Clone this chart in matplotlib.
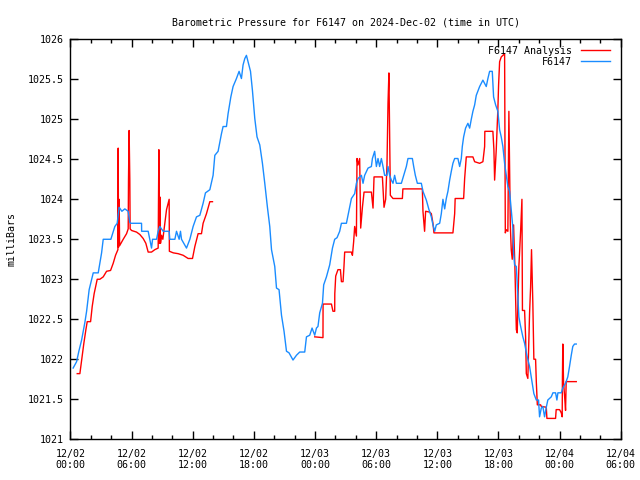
import numpy as np
import pandas as pd
import matplotlib
matplotlib.use("Agg")
import matplotlib.pyplot as plt
import matplotlib.dates as mdates

# ore dalle 00:00 UTC del 2024-12-02, pressione in mbar
station_h = [0.27, 0.61, 0.83, 1.10, 1.42, 1.59, 1.84, 2.24, 2.73, 3.06, 3.22, 3.97, 4.36, 4.59, 4.78,
             5.05, 5.34, 5.67, 5.83, 5.93, 6.98, 6.99, 7.63, 7.96, 8.06, 8.45, 8.61, 8.77, 9.10, 9.69,
             9.75, 10.25, 10.41, 10.67, 10.80, 10.90, 11.39, 11.72, 12.04, 12.37, 12.70, 13.02, 13.25,
             13.68, 14.00, 14.17, 14.49, 14.82, 14.98, 15.31, 15.47, 15.74, 15.96, 16.29, 16.55, 16.78,
             16.94, 17.11, 17.27, 17.43, 17.67, 17.86, 18.09, 18.31, 18.58, 18.84, 19.07, 19.33, 19.56,
             19.73, 20.05, 20.22, 20.47, 20.71, 20.96, 21.20, 21.45, 21.84, 22.18, 22.50, 22.99, 23.16,
             23.48, 23.71, 23.97, 24.14, 24.29, 24.46, 24.73, 24.85, 25.12, 25.44, 25.71, 25.93, 26.16,
             26.42, 26.59, 27.08, 27.24, 27.40, 27.57, 27.89, 28.06, 28.22, 28.55, 28.71, 28.87, 29.20,
             29.53, 29.63, 29.85, 30.02, 30.18, 30.34, 30.51, 30.67, 30.83, 31.06, 31.16, 31.32, 31.49,
             31.65, 31.81, 31.98, 32.47, 32.70, 32.96, 33.12, 33.55, 33.68, 33.84, 34.04, 34.43, 34.59,
             34.92, 35.18, 35.41, 35.57, 35.74, 35.90, 36.23, 36.39, 36.55, 36.72, 36.88, 37.04, 37.21,
             37.37, 37.53, 37.70, 38.02, 38.19, 38.35, 38.45, 38.58, 38.77, 39.00, 39.17, 39.33, 39.49,
             39.66, 39.82, 40.15, 40.47, 40.80, 40.96, 41.13, 41.39, 41.52, 41.72, 41.94, 42.11, 42.27,
             42.43, 42.60, 42.76, 42.92, 43.09, 43.25, 43.41, 43.48, 43.58, 43.75, 43.91, 44.00, 44.14,
             44.39, 44.56, 44.78, 45.05, 45.31, 45.47, 45.71, 45.93, 46.03, 46.20, 46.35, 46.52, 46.69,
             46.84, 47.18, 47.34, 47.60, 47.73, 47.83, 48.16, 48.31, 48.58, 48.80, 48.97, 49.14, 49.29,
             49.46, 49.63]
station_p = [1021.89, 1021.97, 1022.10, 1022.24, 1022.46, 1022.60, 1022.87, 1023.08, 1023.08, 1023.33,
             1023.50, 1023.50, 1023.66, 1023.70, 1023.90, 1023.85, 1023.88, 1023.85, 1023.71, 1023.70,
             1023.70, 1023.60, 1023.60, 1023.39, 1023.50, 1023.50, 1023.60, 1023.66, 1023.60, 1023.60,
             1023.50, 1023.50, 1023.60, 1023.50, 1023.60, 1023.50, 1023.39, 1023.50, 1023.66, 1023.78,
             1023.80, 1023.95, 1024.08, 1024.12, 1024.30, 1024.55, 1024.60, 1024.82, 1024.91, 1024.91,
             1025.07, 1025.28, 1025.41, 1025.51, 1025.60, 1025.51, 1025.68, 1025.76, 1025.80, 1025.72,
             1025.60, 1025.36, 1025.01, 1024.78, 1024.68, 1024.45, 1024.20, 1023.90, 1023.66, 1023.37,
             1023.16, 1022.89, 1022.87, 1022.55, 1022.35, 1022.10, 1022.08, 1021.99, 1022.05, 1022.09,
             1022.09, 1022.28, 1022.30, 1022.39, 1022.30, 1022.39, 1022.41, 1022.58, 1022.70, 1022.93,
             1023.03, 1023.18, 1023.39, 1023.50, 1023.52, 1023.60, 1023.70, 1023.70, 1023.80, 1023.90,
             1024.01, 1024.07, 1024.20, 1024.26, 1024.30, 1024.20, 1024.30, 1024.39, 1024.41, 1024.51,
             1024.60, 1024.41, 1024.51, 1024.41, 1024.51, 1024.41, 1024.30, 1024.30, 1024.41, 1024.30,
             1024.24, 1024.20, 1024.30, 1024.20, 1024.20, 1024.30, 1024.41, 1024.51, 1024.51, 1024.41,
             1024.30, 1024.20, 1024.20, 1024.10, 1023.99, 1023.87, 1023.78, 1023.68, 1023.60, 1023.68,
             1023.70, 1023.82, 1024.00, 1023.88, 1024.01, 1024.10, 1024.24, 1024.35, 1024.45, 1024.51,
             1024.51, 1024.41, 1024.51, 1024.66, 1024.78, 1024.89, 1024.95, 1024.89, 1025.00, 1025.10,
             1025.18, 1025.30, 1025.41, 1025.49, 1025.41, 1025.51, 1025.60, 1025.60, 1025.28, 1025.18,
             1025.10, 1024.87, 1024.78, 1024.66, 1024.45, 1024.30, 1024.16, 1024.10, 1023.87, 1023.64,
             1023.33, 1023.18, 1023.16, 1022.74, 1022.53, 1022.43, 1022.28, 1022.20, 1022.05, 1021.91,
             1021.70, 1021.57, 1021.49, 1021.49, 1021.28, 1021.39, 1021.41, 1021.28, 1021.40, 1021.49,
             1021.53, 1021.58, 1021.58, 1021.49, 1021.58, 1021.58, 1021.64, 1021.70, 1021.78, 1021.91,
             1022.05, 1022.16, 1022.19, 1022.19]

# analisi: NaN = buco nei dati
analysis_h = [0.67, 0.93, 1.10, 1.32, 1.52, 1.65, 1.98, 2.14, 2.33, 2.63, 2.89, 3.22, 3.55, 3.94, 4.20,
              4.43, 4.66, 4.69, 4.72, 4.78, 4.83, 5.18, 5.51, 5.67, 5.70, 5.76, 5.83, 5.86, 6.00, 6.49,
              6.81, 7.14, 7.40, 7.63, 7.96, 8.28, 8.61, 8.64, 8.68, 8.73, 8.77, 8.84, 8.94, 9.07, 9.26,
              9.43, 9.59, 9.69, 9.71, 10.10, 10.57, 11.06, 11.55, 11.98, 12.21, 12.53, 12.86, 13.02,
              13.35, 13.68, 13.94, 18.0,
              23.97, 24.78, 24.79, 25.61, 25.76, 25.93, 25.94, 26.03, 26.25, 26.49, 26.59, 26.75, 26.84,
              26.91, 27.57, 27.67, 27.79, 27.89, 28.06, 28.12, 28.22, 28.38, 28.48, 28.65, 28.81, 29.53,
              29.69, 29.79, 30.61, 30.67, 30.77, 30.93, 31.06, 31.16, 31.25, 31.32, 31.39, 31.65, 32.57,
              32.62, 34.53, 34.59, 34.75, 34.85, 35.25, 35.41, 35.57, 35.67, 37.53, 37.70, 37.75, 38.58,
              38.68, 38.84, 39.49, 39.66, 40.15, 40.47, 40.64, 40.66, 41.45, 41.55, 41.62, 41.78, 41.94,
              42.01, 42.11, 42.27, 42.43, 42.60, 42.67, 42.76, 42.92, 43.02, 43.16, 43.25, 43.35, 43.48,
              43.61, 43.75, 43.84, 43.91, 44.00, 44.17, 44.30, 44.35, 44.56, 44.66, 44.73, 44.88, 44.98,
              45.05, 45.15, 45.24, 45.37, 45.47, 45.64, 45.71, 45.81, 46.13, 46.20, 46.69, 46.75, 47.60,
              47.66, 47.99, 48.16, 48.25, 48.27, 48.31, 48.38, 48.48, 48.58, 48.64, 48.80, 49.63]
analysis_p = [1021.82, 1021.82, 1021.99, 1022.20, 1022.37, 1022.47, 1022.47, 1022.66, 1022.82, 1023.00,
              1023.00, 1023.03, 1023.10, 1023.11, 1023.20, 1023.30, 1023.37, 1024.64, 1023.40, 1024.00,
              1023.42, 1023.50, 1023.57, 1023.63, 1024.24, 1024.86, 1024.24, 1023.63, 1023.61, 1023.59,
              1023.56, 1023.51, 1023.45, 1023.34, 1023.34, 1023.37, 1023.39, 1024.00, 1024.62, 1023.45,
              1024.03, 1023.45, 1023.55, 1023.50, 1023.70, 1023.87, 1023.95, 1024.00, 1023.35, 1023.33,
              1023.32, 1023.30, 1023.26, 1023.26, 1023.41, 1023.57, 1023.57, 1023.70, 1023.82, 1023.97,
              1023.97, np.nan,
              1022.28, 1022.27, 1022.69, 1022.69, 1022.60, 1022.60, 1022.82, 1023.04, 1023.12, 1023.12,
              1022.97, 1022.97, 1023.16, 1023.34, 1023.34, 1023.30, 1023.47, 1023.66, 1023.54, 1024.51,
              1024.43, 1024.51, 1023.64, 1023.90, 1024.09, 1024.09, 1023.89, 1024.28, 1024.28, 1024.14,
              1023.90, 1024.00, 1024.43, 1025.20, 1025.58, 1024.80, 1024.05, 1024.01, 1024.01, 1024.13,
              1024.13, 1023.85, 1023.60, 1023.85, 1023.84, 1023.82, 1023.70, 1023.58, 1023.58, 1023.82,
              1024.01, 1024.01, 1024.26, 1024.53, 1024.53, 1024.47, 1024.45, 1024.47, 1024.66, 1024.85,
              1024.85, 1024.62, 1024.24, 1024.62, 1025.13, 1025.43, 1025.72, 1025.78, 1025.80, 1025.82,
              1023.58, 1023.62, 1023.60, 1025.10, 1023.68, 1023.37, 1023.25, 1023.68, 1023.16, 1022.37,
              1022.33, 1022.74, 1023.16, 1023.60, 1024.00, 1022.61, 1022.61, 1022.28, 1021.82, 1021.76,
              1022.24, 1022.58, 1022.90, 1023.37, 1022.70, 1022.00, 1022.00, 1021.72, 1021.43, 1021.43,
              1021.41, 1021.40, 1021.26, 1021.26, 1021.37, 1021.37, 1021.33, 1021.28, 1021.72, 1022.19,
              1021.72, 1021.55, 1021.36, 1021.72, 1021.72, 1021.72]

station = "F6147"
y_ticks = [1021, 1021.5, 1022, 1022.5, 1023, 1023.5, 1024, 1024.5, 1025, 1025.5, 1026]
y_labels = ["1021", "1021.5", "1022", "1022.5", "1023", "1023.5", "1024", "1024.5", "1025", "1025.5", "1026"]

base = pd.Timestamp("2024-12-02 00:00")
t_station = base + pd.to_timedelta(station_h, unit="h")
t_analysis = base + pd.to_timedelta(analysis_h, unit="h")

plt.rcParams["font.family"] = ["DejaVu Sans Mono"]
plt.rcParams["font.size"] = 7.2

fig = plt.figure(figsize=(6.4, 4.8), dpi=100)
ax = fig.add_axes([0.110, 0.085, 0.860, 0.833])

ax.plot(t_analysis, analysis_p, color="#ff0000", lw=1.0, label=f"{station} Analysis")
ax.plot(t_station, station_p, color="#1a8cff", lw=1.0, label=station)

ax.set_xlim(base, base + pd.Timedelta(hours=54))
ax.set_ylim(1021, 1026)
ax.set_yticks(y_ticks)
ax.set_yticklabels(y_labels)
ax.xaxis.set_major_locator(mdates.HourLocator(byhour=[0, 6, 12, 18]))
ax.xaxis.set_minor_locator(mdates.HourLocator(interval=2))
ax.xaxis.set_major_formatter(mdates.DateFormatter("%m/%d\n%H:%M"))
ax.tick_params(which="both", direction="in", top=True, right=True, width=1, colors="black")
ax.tick_params(which="major", length=6)
ax.tick_params(which="minor", length=3)
ax.tick_params(axis="x", pad=7)
ax.tick_params(axis="y", pad=5)
for lab in ax.get_xticklabels():
    lab.set_linespacing(1.1)
for s in ax.spines.values():
    s.set_linewidth(1)

ax.set_title(f"Barometric Pressure for {station} on 2024-Dec-02 (time in UTC)", fontsize=7.2, pad=10)
ax.set_ylabel("milliBars", labelpad=8)

ax.legend(loc="upper right", bbox_to_anchor=(0.987, 0.994), frameon=False, markerfirst=False,
          handlelength=2.9, borderaxespad=0, labelspacing=0.12, handletextpad=0.9)

fig.savefig("out.png", dpi=100)
